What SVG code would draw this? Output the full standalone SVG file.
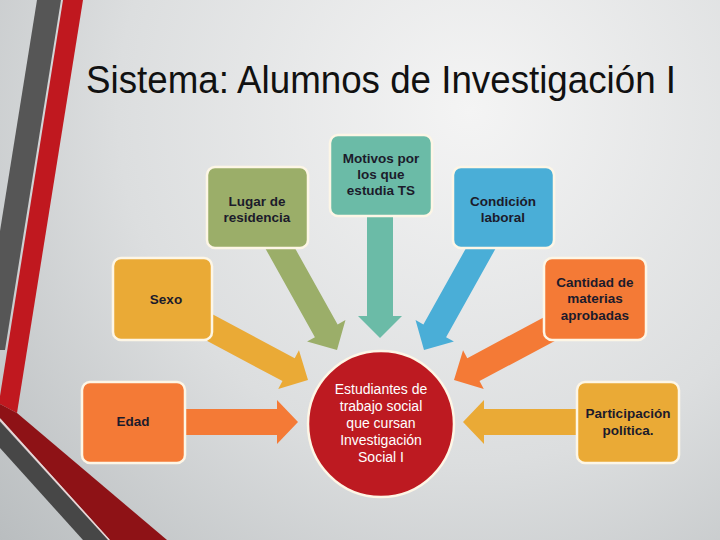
<svg xmlns="http://www.w3.org/2000/svg" width="720" height="540" viewBox="0 0 720 540">
<defs>
<radialGradient id="bg" cx="470" cy="110" r="640" gradientUnits="userSpaceOnUse">
<stop offset="0" stop-color="#f4f4f4"/>
<stop offset="0.55" stop-color="#dcdedf"/>
<stop offset="1" stop-color="#b9bdbf"/>
</radialGradient>
<style>
.box{stroke:#fdf6e6;stroke-width:2.5}
.lbl{font-family:"Liberation Sans",Arial,sans-serif;font-size:13.5px;font-weight:bold;fill:#1c1b2b;text-anchor:middle}
.ctr{font-family:"Liberation Sans",Arial,sans-serif;font-size:14px;fill:#ffffff;text-anchor:middle}
</style>
</defs>
<rect width="720" height="540" fill="url(#bg)"/>
<g id="decor">
<polygon points="37,0 61,0 5,350 0,350 0,231" fill="#565656"/>
<polygon points="63,0 83,0 17,413 0,404 0,396" fill="#c0181f"/>
<polygon points="0,404 17,413 167,540 110,540 0,418" fill="#8e1216"/>
<line x1="0" y1="419.5" x2="109" y2="540" stroke="#ecd6d6" stroke-width="1.5"/>
<polygon points="0,421.5 108,540 83,540 0,448" fill="#474747"/>
</g>
<text x="86" y="93" font-family="'Liberation Sans',Arial,sans-serif" font-size="38" fill="#111" textLength="590" lengthAdjust="spacingAndGlyphs">Sistema: Alumnos de Investigación I</text>
<g id="connectors">
<path d="M0 0 L-22 -22 L-22 -13 L-137 -13 L-137 13 L-22 13 L-22 22 Z" fill="#eaaa36" transform="translate(308,380) rotate(28.1)"/>
<path d="M0 0 L-22 -22 L-22 -13 L-137 -13 L-137 13 L-22 13 L-22 22 Z" fill="#9bae69" transform="translate(337,350) rotate(60.8)"/>
<path d="M0 0 L-22 -22 L-22 -13 L-140 -13 L-140 13 L-22 13 L-22 22 Z" fill="#6bbba7" transform="translate(380,338) rotate(90)"/>
<path d="M0 0 L-22 -22 L-22 -13 L-137 -13 L-137 13 L-22 13 L-22 22 Z" fill="#4aaed7" transform="translate(424,350) rotate(119.2)"/>
<path d="M0 0 L-22 -22 L-22 -13 L-137 -13 L-137 13 L-22 13 L-22 22 Z" fill="#f47a36" transform="translate(454,380) rotate(151.9)"/>
<path d="M0 0 L-21 -22 L-21 -13 L-125 -13 L-125 13 L-21 13 L-21 22 Z" fill="#f47a36" transform="translate(298,422)"/>
<path d="M0 0 L-21 -22 L-21 -13 L-125 -13 L-125 13 L-21 13 L-21 22 Z" fill="#eaaa36" transform="translate(463,422) rotate(180)"/>
</g>
<g id="lugar">
<rect class="box" x="207" y="167" width="101" height="81" rx="8" fill="#9bae69"/>
<text class="lbl" x="257" y="206">Lugar de</text>
<text class="lbl" x="257" y="222">residencia</text>
</g>
<g id="motivos">
<rect class="box" x="330" y="135" width="102" height="81" rx="8" fill="#6bbba7"/>
<text class="lbl" x="381" y="163">Motivos por</text>
<text class="lbl" x="381" y="179">los que</text>
<text class="lbl" x="381" y="195">estudia TS</text>
</g>
<g id="condicion">
<rect class="box" x="453" y="167" width="101" height="81" rx="8" fill="#4aaed7"/>
<text class="lbl" x="503" y="206">Condición</text>
<text class="lbl" x="503" y="222">laboral</text>
</g>
<g id="sexo">
<rect class="box" x="113" y="258" width="99" height="82" rx="8" fill="#eaaa36"/>
<text class="lbl" x="166" y="304">Sexo</text>
</g>
<g id="cantidad">
<rect class="box" x="544" y="258" width="102" height="82" rx="8" fill="#f47a36"/>
<text class="lbl" x="595" y="287">Cantidad de</text>
<text class="lbl" x="595" y="303">materias</text>
<text class="lbl" x="595" y="320">aprobadas</text>
</g>
<g id="edad">
<rect class="box" x="82" y="382" width="103" height="81" rx="8" fill="#f47a36"/>
<text class="lbl" x="133" y="426">Edad</text>
</g>
<g id="participacion">
<rect class="box" x="577" y="382" width="102" height="81" rx="8" fill="#eaaa36"/>
<text class="lbl" x="628" y="418">Participación</text>
<text class="lbl" x="628" y="435">política.</text>
</g>
<g id="centro">
<circle cx="381" cy="424" r="73" fill="#bd1a21" stroke="#fdf6e6" stroke-width="2.5"/>
<text class="ctr" x="381" y="394">Estudiantes de</text>
<text class="ctr" x="381" y="411">trabajo social</text>
<text class="ctr" x="381" y="428">que cursan</text>
<text class="ctr" x="381" y="445">Investigación</text>
<text class="ctr" x="381" y="462">Social I</text>
</g>
</svg>
